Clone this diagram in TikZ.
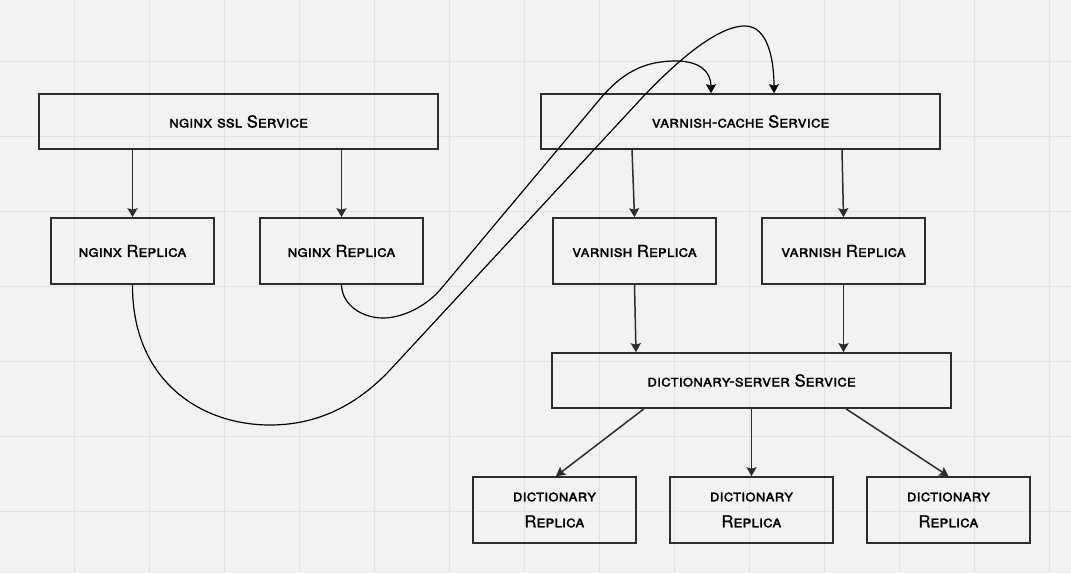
\documentclass[tikz,border=0pt]{standalone}
\usepackage{fontspec}
\newfontfamily\sketchfont{TeX Gyre Heros}[Letters=SmallCaps,FakeBold=1.3]
\usetikzlibrary{arrows.meta}
\definecolor{bgc}{RGB}{242,242,242}
\definecolor{gridc}{RGB}{227,227,227}
\definecolor{inkc}{RGB}{45,45,45}
\begin{document}
\begin{tikzpicture}[x=1pt,y=-1pt,
  lbl/.style={font=\fontsize{16.5}{26}\sketchfont,align=center,text=black},
  svcbox/.style={lbl,draw=inkc,line width=1.6pt,minimum width=399pt,minimum height=55pt,inner sep=0pt},
  repbox/.style={lbl,draw=inkc,line width=1.6pt,minimum width=163pt,minimum height=66pt,inner sep=0pt},
  arr/.style={draw=inkc,line width=1.5pt,-{Stealth[length=9pt,width=10pt,inset=1.5pt]}},
  curv/.style={draw=black,line width=1.2pt,-{Stealth[length=9pt,width=10pt,inset=1.5pt]}}
]
% background and grid
\fill[bgc] (0,0) rectangle (1071,573);
\useasboundingbox (0,0) rectangle (1071,573);
\foreach \i in {0,...,13} {
  \draw[gridc,line width=1.4pt] (74.3+75*\i,0) -- (74.3+75*\i,573);
}
\foreach \j in {0,...,6} {
  \draw[gridc,line width=1.4pt] (0,61.7+75*\j) -- (1071,61.7+75*\j);
}

% nodes
\node[svcbox] (ssl) at (238.5,121.5) {nginx ssl Service};
\node[repbox] (nr1) at (132.5,251) {nginx Replica};
\node[repbox] (nr2) at (341.5,251) {nginx Replica};
\node[svcbox] (vc) at (740.5,121.5) {varnish-cache Service};
\node[repbox] (vr1) at (634.5,251) {varnish Replica};
\node[repbox] (vr2) at (843.5,251) {varnish Replica};
\node[svcbox] (ds) at (751.5,380.5) {dictionary-server Service};
\node[repbox] (dr1) at (554.5,510) {dictionary\\Replica};
\node[repbox] (dr2) at (751.5,510) {dictionary\\Replica};
\node[repbox] (dr3) at (948.5,510) {dictionary\\Replica};

% straight arrows
\draw[arr] (ssl.south -| nr1.north) -- (nr1.north);
\draw[arr] (ssl.south -| nr2.north) -- (nr2.north);
\draw[arr] ([xshift=-2.5pt]vc.south -| vr1.north) -- (vr1.north);
\draw[arr] ([xshift=-1.5pt]vc.south -| vr2.north) -- (vr2.north);
\draw[arr] (vr1.south) -- ([xshift=1.5pt]ds.north -| vr1.south);
\draw[arr] (vr2.south) -- (ds.north -| vr2.south);
\draw[arr] ([xshift=-107.5pt]ds.south) -- ([xshift=1.5pt]dr1.north);
\draw[arr] (ds.south) -- (dr2.north);
\draw[arr] ([xshift=94.5pt]ds.south) -- (dr3.north);

% curved connectors
\draw[curv] (nr2.south) .. controls (342,305) and (362,318) .. (383,318)
  .. controls (402,318) and (425,307) .. (440,290)
  -- (600,99)
  .. controls (626,68) and (650,61) .. (676,61)
  .. controls (700,61) and (711,72) .. ([xshift=-29.5pt]vc.north);
\draw[curv] (nr1.south) .. controls (132,380) and (200,425) .. (270,425)
  .. controls (320,425) and (359,403) .. (390,370)
  -- (640,100)
  .. controls (671,67) and (715,26) .. (745,26)
  .. controls (768,26) and (774,60) .. ([xshift=33.5pt]vc.north);
\end{tikzpicture}
\end{document}
